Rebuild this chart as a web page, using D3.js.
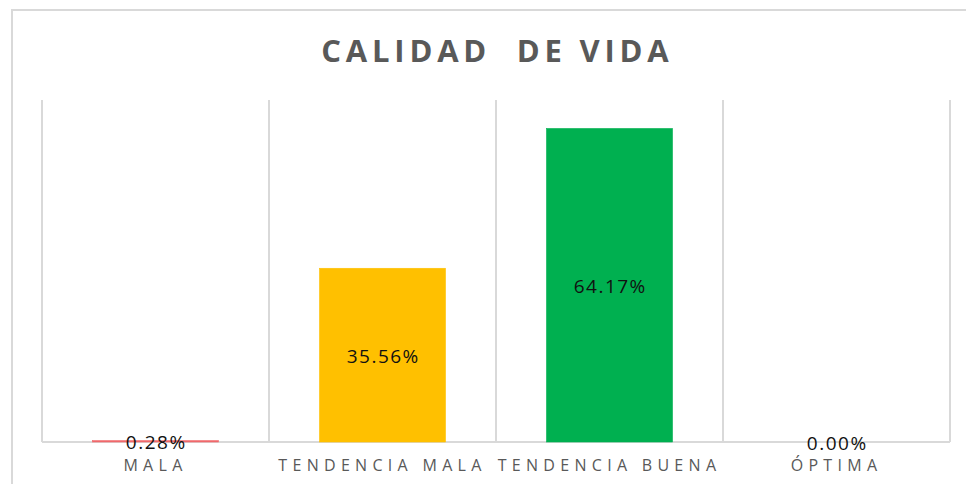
<!DOCTYPE html>
<html>
<head>
<meta charset="utf-8">
<style>
  body { margin: 0; background: #fff; }
  text { font-family: "Open Sans", "Liberation Sans", sans-serif; }
  .grid line { stroke: #d9d9d9; stroke-width: 2; }
  .cat { fill: #595959; font-size: 16px; letter-spacing: 5.3px; }
  .val { fill: #111; font-size: 19px; letter-spacing: 1.5px; }
</style>
</head>
<body>
<svg width="966" height="484"></svg>
<script src="https://d3js.org/d3.v7.min.js"></script>
<script>
// categories and values (share of respondents)
var categories = ["MALA", "TENDENCIA MALA", "TENDENCIA BUENA", "ÓPTIMA"];
var values = [0.0028, 0.3556, 0.6417, 0.0];
var colors = ["#f0686b", "#ffc000", "#00b050", "#7f7f7f"];
var labels = ["0.28%", "35.56%", "64.17%", "0.00%"];

var margin = {top: 100, left: 42, right: 16, bottom: 42},
    W = 966, H = 484,
    width = W - margin.left - margin.right,
    height = H - margin.top - margin.bottom;

var svg = d3.select("svg");

// outer chart frame (runs off the right and bottom)
svg.append("rect")
  .attr("x", 12).attr("y", 10)
  .attr("width", 980).attr("height", 500)
  .attr("fill", "none")
  .attr("stroke", "#d9d9d9")
  .attr("stroke-width", 2);

svg.append("text")
  .attr("x", 495 + 2.4).attr("y", 62)
  .attr("text-anchor", "middle")
  .attr("xml:space", "preserve")
  .style("font-size", "31px")
  .style("font-weight", "bold")
  .style("letter-spacing", "4.8px")
  .style("fill", "#595959")
  .text("CALIDAD  DE VIDA");

var g = svg.append("g")
  .attr("transform", "translate(" + margin.left + "," + margin.top + ")");

var x = d3.scaleBand().domain(categories).range([0, width]).paddingInner(0).paddingOuter(0);
var y = d3.scaleLinear().domain([0, 0.7]).range([height, 0]);

// vertical category separators
var grid = g.append("g").attr("class", "grid");
grid.selectAll("line.v")
  .data(d3.range(categories.length + 1))
  .enter().append("line")
  .attr("class", "v")
  .attr("x1", function(i) { return i * x.bandwidth(); })
  .attr("x2", function(i) { return i * x.bandwidth(); })
  .attr("y1", 0).attr("y2", height);
grid.append("line")
  .attr("x1", 0).attr("x2", width)
  .attr("y1", height).attr("y2", height);

var barW = x.bandwidth() * 0.555;

g.selectAll("rect.bar")
  .data(values)
  .enter().append("rect")
  .attr("class", "bar")
  .attr("x", function(d, i) { return x(categories[i]) + (x.bandwidth() - barW) / 2; })
  .attr("width", barW)
  .attr("y", function(d) { return y(d); })
  .attr("height", function(d) { return height - y(d); })
  .attr("fill", function(d, i) { return colors[i]; })
  .attr("stroke", function(d, i) { return d > 0 ? colors[i] : "none"; })
  .attr("stroke-width", 0.6);

g.selectAll("text.val")
  .data(values)
  .enter().append("text")
  .attr("class", "val")
  .attr("text-anchor", "middle")
  .attr("dominant-baseline", "central")
  .attr("x", function(d, i) { return x(categories[i]) + x.bandwidth() / 2 + 0.75; })
  .attr("y", function(d) { return (y(d) + height) / 2 + 1; })
  .text(function(d, i) { return labels[i]; });

g.selectAll("text.cat")
  .data(categories)
  .enter().append("text")
  .attr("class", "cat")
  .attr("text-anchor", "middle")
  .attr("x", function(d) { return x(d) + x.bandwidth() / 2; })
  .attr("y", height + 29)
  .text(function(d) { return d; });
</script>
</body>
</html>
